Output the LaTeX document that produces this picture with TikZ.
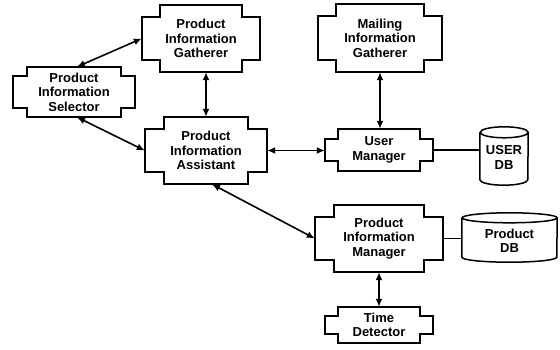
\documentclass[tikz,border=0pt]{standalone}
\usepackage{fontspec}
\setmainfont{Liberation Sans}
\usetikzlibrary{arrows.meta}

\begin{document}
\begin{tikzpicture}[x=1pt,y=-1pt,font=\fontsize{13pt}{14.5pt}\selectfont\bfseries,>={Latex[length=8pt,width=7pt]},
    box/.style={inner sep=0pt,align=center},
    outline/.style={line width=1.5pt,line join=miter},
    link/.style={line width=1.6pt}]
  \useasboundingbox (0,0) rectangle (560,349);
  \node[box,minimum width=118pt,minimum height=67pt] (pig) at (201,38.5) {Product\\Information\\Gatherer};
  \node[box,minimum width=122pt,minimum height=50pt] (pis) at (74,92) {Product\\Information\\Selector};
  \node[box,minimum width=122pt,minimum height=67pt] (pia) at (206,150.5) {Product\\Information\\Assistant};
  \node[box,minimum width=124pt,minimum height=68pt] (mig) at (380,38) {Mailing\\Information\\Gatherer};
  \node[box,minimum width=108pt,minimum height=42pt] (um) at (379,150) {User\\Manager};
  \node[box,minimum width=128pt,minimum height=67pt] (pim) at (379,238.5) {Product\\Information\\Manager};
  \node[box,minimum width=108pt,minimum height=36pt] (td) at (379,325) {Time\\Detector};
  \node[box,minimum width=48pt,minimum height=58pt] (udb) at (504,157.5) {USER\\DB};
  \node[box,minimum width=95pt,minimum height=49pt] (pdb) at (509.5,241) {Product\\DB};
  % notched outlines of the agents
  \foreach \n/\a/\b in {pig/18/12,pis/14/9,pia/19/12,mig/18/12,um/13/10,pim/19/12,td/13/9}
    \draw[outline] ([xshift=\a pt]\n.north west) -- ([xshift=-\a pt]\n.north east)
      -- ([xshift=-\a pt,yshift=-\b pt]\n.north east) -- ([yshift=-\b pt]\n.north east)
      -- ([yshift=\b pt]\n.south east) -- ([xshift=-\a pt,yshift=\b pt]\n.south east)
      -- ([xshift=-\a pt]\n.south east) -- ([xshift=\a pt]\n.south west)
      -- ([xshift=\a pt,yshift=\b pt]\n.south west) -- ([yshift=\b pt]\n.south west)
      -- ([yshift=-\b pt]\n.north west) -- ([xshift=\a pt,yshift=-\b pt]\n.north west) -- cycle;
  % databases, drawn a little above their text
  \foreach \n/\r/\e/\d in {udb/24/5.5/1.5,pdb/47.5/5/3.5}
    \draw[outline] ([yshift=\d pt-\e pt]\n.north west) -- ([yshift=\d pt+\e pt]\n.south west)
      arc[start angle=180,end angle=360,x radius=\r pt,y radius=\e pt]
      -- ([yshift=\d pt-\e pt]\n.north east)
      arc[start angle=0,end angle=360,x radius=\r pt,y radius=\e pt];
  \draw[link,<->] ([xshift=3pt]pis.north) -- (pig.west);
  \draw[link,<->] ([xshift=3pt]pis.south) -- (pia.west);
  \draw[link,<->] ([xshift=5pt]pig.south) -- ([xshift=5pt]pig.south |- pia.north);
  \draw[link,<->] (pia.east) -- (pia.east -| um.west);
  \draw[link,<->] (mig.south) -- (mig.south |- um.north);
  \draw[link] (um.east) -- (um.east -| udb.west);
  \draw[link,<->] ([xshift=6pt]pia.south) -- (pim.west);
  \draw[link] (pim.east) -- (pim.east -| pdb.west);
  \draw[link,<->] (pim.south) -- (pim.south |- td.north);
\end{tikzpicture}
\end{document}
